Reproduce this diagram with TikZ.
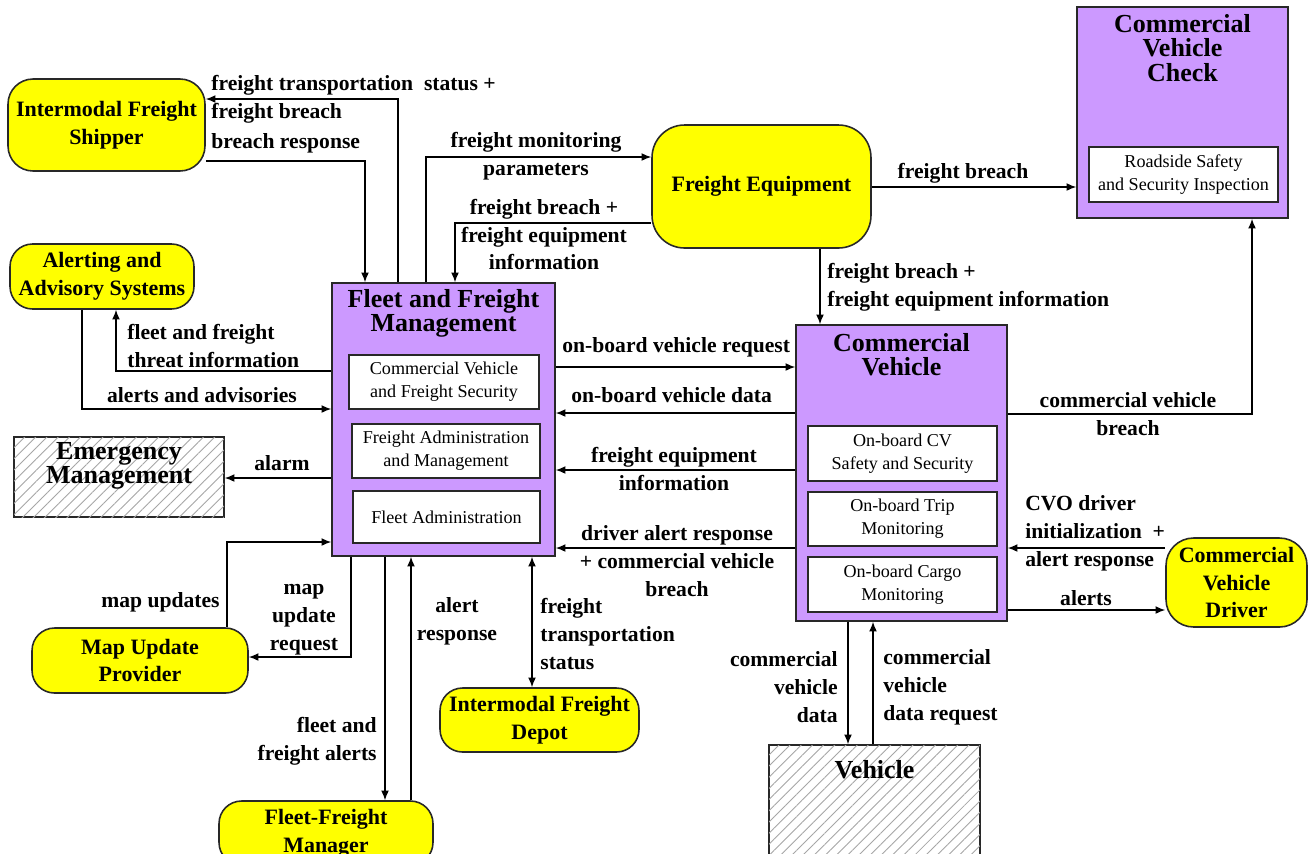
\documentclass[tikz,border=0pt]{standalone}
\usepackage{fontspec}
\setmainfont{Liberation Serif}
\usetikzlibrary{arrows.meta,patterns.meta}
\definecolor{ylw}{RGB}{255,255,0}
\definecolor{prp}{RGB}{204,153,255}
\definecolor{edgec}{RGB}{40,40,40}
\newcommand{\lblfont}{\fontsize{12.3}{15.9}\selectfont\bfseries}
\newcommand{\ttlfont}{\fontsize{14.8}{13.8}\selectfont\bfseries}
\newcommand{\extfont}{\fontsize{12.5}{15.7}\selectfont\bfseries}
\newcommand{\subfont}{\fontsize{10.3}{13}\selectfont}
\tikzset{
  term/.style={draw=edgec, line width=0.9pt, fill=ylw, rounded corners=0.5cm, align=center, font=\extfont, inner sep=0pt},
  proc/.style={draw=edgec, line width=0.9pt, fill=prp, inner sep=0pt},
  subbox/.style={draw=edgec, line width=0.9pt, fill=white, align=center, font=\subfont, inner sep=0pt},
  hatch/.style={draw=edgec, line width=0.9pt, fill=white, postaction={pattern={Lines[angle=45,distance=4.5pt,line width=0.5pt]}, pattern color=gray!70}, inner sep=0pt},
  ttl/.style={align=center, font=\ttlfont, inner sep=0pt},
  lbl/.style={font=\lblfont, inner sep=0pt},
  arr/.style={draw=black, line width=0.8pt, -{Latex[length=5.5pt,width=4.5pt]}},
  biarr/.style={draw=black, line width=0.8pt, {Latex[length=5.5pt,width=4.5pt]}-{Latex[length=5.5pt,width=4.5pt]}},
}
\begin{document}
\begin{tikzpicture}[x=0.02cm,y=-0.02cm]
\useasboundingbox (0,0) rectangle (1310,853);
\clip (0,0) rectangle (1310,853);

% yellow terminators
\node[term, minimum width=3.94cm, minimum height=1.84cm] (shipper) at (106.5,125) {Intermodal Freight\\Shipper};
\node[term, minimum width=3.68cm, minimum height=1.30cm, rounded corners=0.45cm] (alert) at (102,276.5) {Alerting and\\Advisory Systems};
\node[term, minimum width=4.38cm, minimum height=2.46cm, rounded corners=0.65cm] (fe) at (761.5,186.5) {Freight Equipment};
\node[term, minimum width=2.82cm, minimum height=1.78cm, rounded corners=0.55cm] (driver) at (1236.5,582.5) {Commercial\\Vehicle\\Driver};
\node[term, minimum width=4.32cm, minimum height=1.30cm, rounded corners=0.45cm] (mup) at (140,660.5) {Map Update\\Provider};
\node[term, minimum width=3.98cm, minimum height=1.28cm, rounded corners=0.45cm] (depot) at (539.5,720) {Intermodal Freight\\Depot};
\node[term, minimum width=4.28cm, minimum height=1.28cm, rounded corners=0.45cm] (mgr) at (326,833) {Fleet-Freight\\Manager};

% hatched
\node[hatch, minimum width=4.2cm, minimum height=1.6cm] (emerg) at (119,477) {};
\node[ttl] (emttl) at (119,466) {Emergency\\Management};
\node[hatch, minimum width=4.22cm, minimum height=3.3cm] (veh) at (874.5,827.5) {};
\node[ttl] (vehttl) at (874.5,770) {Vehicle};

% purple
\node[proc, minimum width=4.46cm, minimum height=5.46cm] (ffm) at (443.5,419.5) {};
\node[ttl] (ffmttl) at (443.5,313) {Fleet and Freight\\Management};
\node[subbox, minimum width=3.8cm, minimum height=1.08cm] (cvfs) at (444,382) {Commercial Vehicle\\and Freight Security};
\node[subbox, minimum width=3.76cm, minimum height=1.08cm] (fam) at (446,451) {Freight Administration\\and Management};
\node[subbox, minimum width=3.74cm, minimum height=1.04cm] (fa) at (446.5,517) {Fleet Administration};

\node[proc, minimum width=4.22cm, minimum height=4.22cm] (cvc) at (1182.5,112.5) {};
\node[ttl] (cvcttl) at (1182.5,48) {Commercial\\Vehicle\\Check};
\node[subbox, minimum width=3.78cm, minimum height=1.1cm] (rssi) at (1183.5,174.5) {Roadside Safety\\and Security Inspection};

\node[proc, minimum width=4.22cm, minimum height=5.92cm] (cv) at (901.5,473) {};
\node[ttl] (cvttl) at (901.5,355) {Commercial\\Vehicle};
\node[subbox, minimum width=3.78cm, minimum height=1.1cm] (cvss) at (902.5,453.5) {On-board CV\\Safety and Security};
\node[subbox, minimum width=3.78cm, minimum height=1.08cm] (trip) at (902.5,519) {On-board Trip\\Monitoring};
\node[subbox, minimum width=3.78cm, minimum height=1.1cm] (cargo) at (902.5,584.5) {On-board Cargo\\Monitoring};

% connectors
\draw[arr] (398,0 |- ffm.north) |- (shipper.east |- 0,99);
\draw[arr] (shipper.east |- 0,161) -| (365,0 |- ffm.north);
\draw[arr] (426,0 |- ffm.north) |- (fe.west |- 0,157);
\draw[arr] (fe.west |- 0,223) -| (455,0 |- ffm.north);
\draw[arr] (fe.east |- 0,187) -- (cvc.west |- 0,187);
\draw[arr] (820,0 |- fe.south) -- (820,0 |- cv.north);
\draw[arr] (ffm.east |- 0,367) -- (cv.west |- 0,367);
\draw[arr] (cv.west |- 0,413) -- (ffm.east |- 0,413);
\draw[arr] (cv.west |- 0,470) -- (ffm.east |- 0,470);
\draw[arr] (cv.west |- 0,548) -- (ffm.east |- 0,548);
\draw[arr] (cv.east |- 0,414) -| (1252,0 |- cvc.south);
\draw[arr] (driver.west |- 0,548) -- (cv.east |- 0,548);
\draw[arr] (cv.east |- 0,610) -- (driver.west |- 0,610);
\draw[arr] (848,0 |- cv.south) -- (848,0 |- veh.north);
\draw[arr] (873,0 |- veh.north) -- (873,0 |- cv.south);
\draw[arr] (ffm.west |- 0,371) -| (116,0 |- alert.south);
\draw[arr] (82,0 |- alert.south) |- (ffm.west |- 0,409);
\draw[arr] (ffm.west |- 0,478) -- (emerg.east |- 0,478);
\draw[arr] (227,0 |- mup.north) |- (ffm.west |- 0,542);
\draw[arr] (351,0 |- ffm.south) |- (mup.east |- 0,657);
\draw[arr] (385,0 |- ffm.south) -- (385,0 |- mgr.north);
\draw[arr] (411,0 |- mgr.north) -- (411,0 |- ffm.south);
\draw[biarr] (532,0 |- ffm.south) -- (532,0 |- depot.north);

% labels
\node[lbl, anchor=west, align=left] (l1) at (211,99) {freight transportation\ \ status +\\freight breach};
\node[lbl, anchor=west] (l2) at (211,143) {breach response};
\node[lbl, align=center] (l3) at (536,156) {freight monitoring\\parameters};
\node[lbl, align=center] (l4) at (544,234.5) {freight breach +\\freight equipment\\information};
\node[lbl] (l5) at (963,173) {freight breach};
\node[lbl, anchor=west, align=left] (l6) at (827,287) {freight breach +\\freight equipment information};
\node[lbl, anchor=west] (l7) at (562,347) {on-board vehicle request};
\node[lbl, anchor=west] (l8) at (571,395) {on-board vehicle data};
\node[lbl, align=center] (l9) at (674,469) {freight equipment\\information};
\node[lbl, align=center] (l10) at (677,561) {driver alert response\\+ commercial vehicle\\breach};
\node[lbl, align=center] (l11) at (1128,414) {commercial vehicle\\breach};
\node[lbl, anchor=west, align=left] (l12) at (1025,533) {CVO driver\\initialization\ \ +\\alert response};
\node[lbl] (l13) at (1086,598) {alerts};
\node[lbl, anchor=east, align=right] (l14) at (838,687) {commercial\\vehicle\\data};
\node[lbl, anchor=west, align=left] (l15) at (883,687) {commercial\\vehicle\\data request};
\node[lbl, anchor=west, align=left] (l16) at (127,346) {fleet and freight\\threat information};
\node[lbl] (l17) at (202,395) {alerts and advisories};
\node[lbl] (l18) at (282,463) {alarm};
\node[lbl, anchor=east] (l19) at (220,602) {map updates};
\node[lbl, align=center] (l20) at (304,620) {map\\update\\request};
\node[lbl, anchor=east, align=right] (l21) at (377,741) {fleet and\\freight alerts};
\node[lbl, align=center] (l22) at (457,621) {alert\\response};
\node[lbl, anchor=west, align=left] (l23) at (540,634) {freight\\transportation\\status};
\end{tikzpicture}
\end{document}
